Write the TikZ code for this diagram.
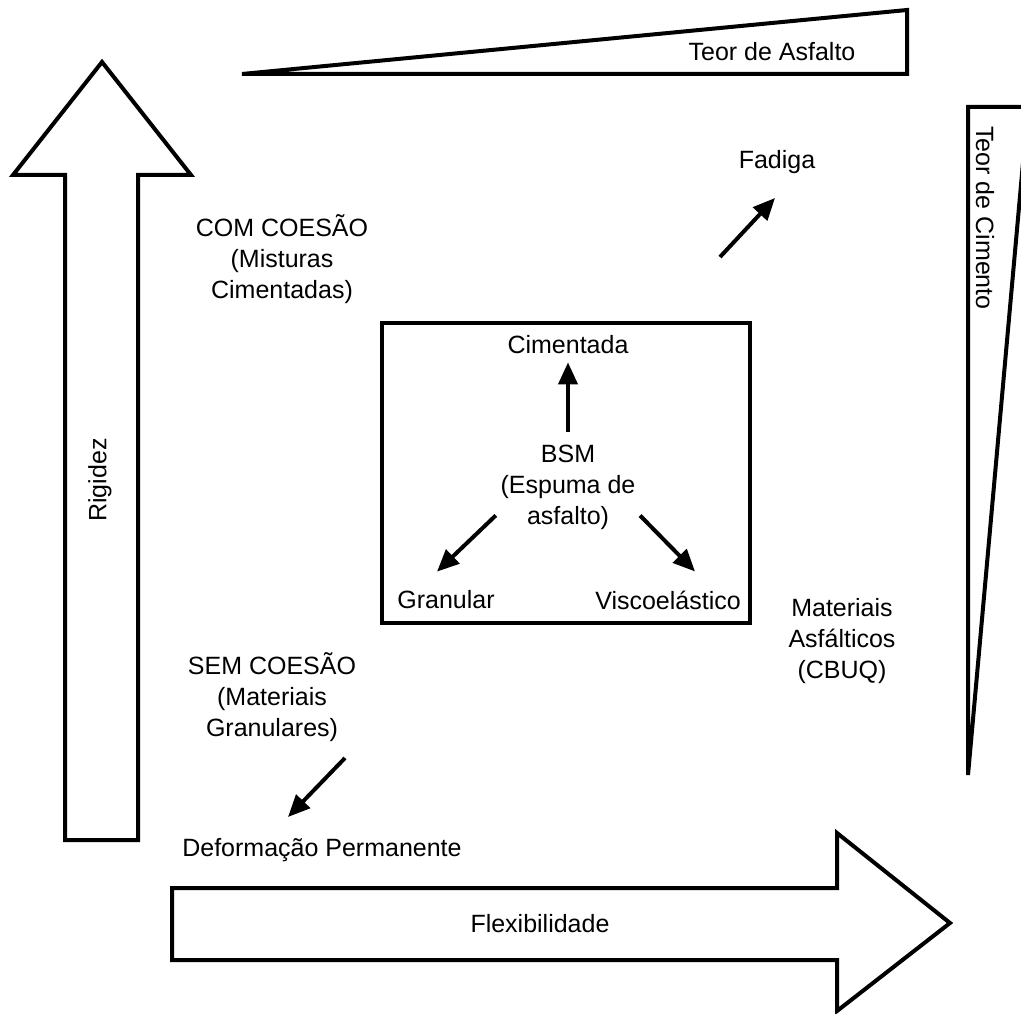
\documentclass[tikz,border=0pt]{standalone}
\usepackage{fontspec}
\setmainfont{Liberation Sans}
\usetikzlibrary{arrows.meta,positioning}
\tikzset{
  txt/.style={
    font=\fontsize{25}{31}\selectfont,
    align=center,
    inner sep=1pt
  },
  outline/.style={draw=black, line width=4pt, line join=miter},
  smallarrow/.style={line width=4pt, -{Triangle[length=22pt,width=19pt]}}
}

\begin{document}
\begin{tikzpicture}[x=1pt,y=1pt]

\useasboundingbox (0,0) rectangle (1021,-1014);

% big arrows and wedges
\draw[outline] (102,-62) -- (191,-175) -- (138,-175) -- (138,-840)
  -- (65,-840) -- (65,-175) -- (13,-175) -- cycle;
\draw[outline] (172,-888) -- (837,-888) -- (837,-833) -- (950,-923)
  -- (837,-1011) -- (837,-960) -- (172,-960) -- cycle;
\draw[outline] (242,-74) -- (907,-10) -- (907,-74) -- cycle;
\begin{scope}
  \clip (0,0) rectangle (1021,-1014);
  \draw[outline] (968,-107) -- (1028,-107) -- (968,-775) -- cycle;
\end{scope}

% central box
\draw[outline] (382,-323) rectangle (750,-623);

\node[txt] (asfalto) at (772,-52) {Teor de Asfalto};
\node[txt,rotate=-90] (cimento) at (985,-218) {Teor de Cimento};
\node[txt,rotate=90] (rigidez) at (100,-480) {Rigidez};
\node[txt] (flex) at (540,-924) {Flexibilidade};

\node[txt] (com) at (282,-259) {COM COESÃO\\(Misturas\\Cimentadas)};
\node[txt] (sem) at (272,-697) {SEM COESÃO\\(Materiais\\Granulares)};
\node[txt] (asf) at (842,-641) {Materiais\\Asfálticos\\(CBUQ)};

\node[txt] (fadiga) at (777,-162) {Fadiga};
\node[txt] (deform) at (322,-850) {Deformação Permanente};

\node[txt] (bsm) at (568,-487) {BSM\\(Espuma de\\asfalto)};
\node[txt] (cim) at (568,-345) {Cimentada};
\node[txt] (gran) at (446,-600) {Granular};
\node[txt] (visco) at (668,-600) {Viscoelástico};

% arrows
\draw[smallarrow,shorten <=11pt,shorten >=7pt] (bsm) -- (cim);
\draw[smallarrow,shorten <=5pt] (bsm.200) -- ([shift={(-9pt,18pt)}]gran.north);
\draw[smallarrow,shorten <=5pt] (bsm.340) -- ([shift={(27pt,18pt)}]visco.north);

\coordinate (fadstart) at (720,-257);
\coordinate (fadend) at (775,-198);
\draw[smallarrow] (fadstart) -- (fadend);

\coordinate (defstart) at (345,-758);
\coordinate (defend) at (288,-817);
\draw[smallarrow] (defstart) -- (defend);

\end{tikzpicture}
\end{document}
